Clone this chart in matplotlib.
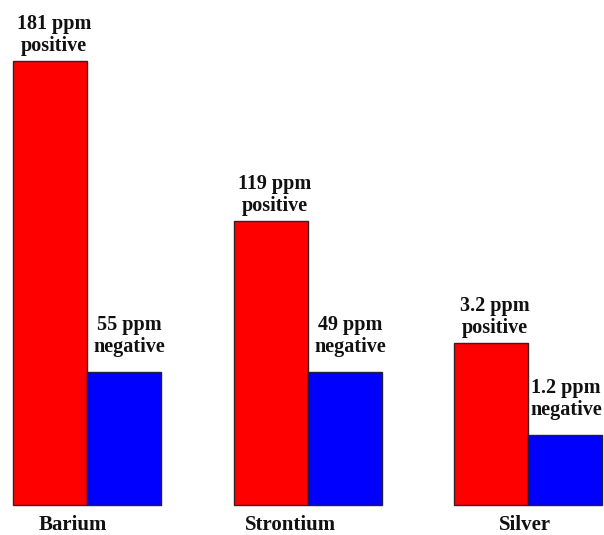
import numpy as np
import matplotlib.pyplot as plt

# Bar heights as drawn (schematic, not to scale with the ppm values)
categories = ["Barium", "Strontium", "Silver"]
pos_heights = [444, 284, 162]
neg_heights = [133, 133, 70]
pos_labels = ["181 ppm\npositive", "119 ppm\npositive", "3.2 ppm\npositive"]
neg_labels = ["55 ppm\nnegative", "49 ppm\nnegative", "1.2 ppm\nnegative"]

plt.rcParams['font.family'] = ['Liberation Serif', 'DejaVu Serif']

fig = plt.figure(figsize=(6.04, 5.35), dpi=100)
ax = fig.add_axes([0, 0, 1, 1])
ax.set_xlim(0, 604)
ax.set_ylim(-30, 505)
ax.axis('off')

centers = np.array([87, 308, 528])
w = 74
ax.bar(centers - w/2, pos_heights, width=w, color='#ff0000', edgecolor='#3a2020', linewidth=1)
ax.bar(centers + w/2, neg_heights, width=w, color='#0000ff', edgecolor='#20203a', linewidth=1)

# keep the last label inside the canvas
neg_x = np.minimum(centers + w/2 + 5, 566)
for i in range(len(categories)):
    ax.text(centers[i] - w/2 + 4, pos_heights[i] + 5, pos_labels[i], ha='center', va='bottom',
            fontsize=14.5, fontweight='bold', linespacing=1.12, color='#111111')
    ax.text(neg_x[i], neg_heights[i] + 15, neg_labels[i], ha='center', va='bottom',
            fontsize=14.5, fontweight='bold', linespacing=1.12, color='#111111')

offsets = [-14, -17, -3]
for i, c in enumerate(categories):
    ax.text(centers[i] + offsets[i], -20, c, ha='center', va='center',
            fontsize=15, fontweight='bold', color='#111111')

fig.savefig("out.png", dpi=100)
